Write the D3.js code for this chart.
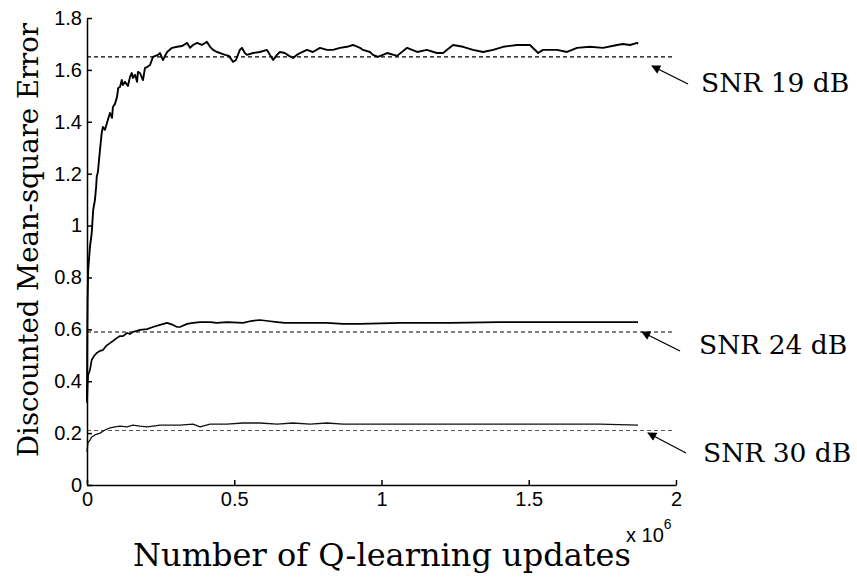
<!DOCTYPE html>
<html>
<head>
<meta charset="utf-8">
<script src="https://cdn.jsdelivr.net/npm/d3@7"></script>
<style>
  html, body { margin: 0; padding: 0; background: #fff; }
  svg { display: block; }
</style>
</head>
<body>
<svg id="chart" width="857" height="581"></svg>
<script>
// Q-learning convergence: discounted MSE vs. number of updates (x 10^6)

// --- SNR 19 dB run
const snr19X = [0, 0.001, 0.002, 0.004, 0.010, 0.016, 0.021, 0.027, 0.031, 0.033, 0.037, 0.044, 0.050, 0.054, 0.061, 0.068, 0.078, 0.085, 0.088, 0.095, 0.102, 0.106, 0.112, 0.118, 0.122, 0.129, 0.139, 0.146, 0.152, 0.156, 0.163, 0.170, 0.173, 0.180, 0.190, 0.197, 0.204, 0.214, 0.224, 0.241, 0.248, 0.258, 0.272, 0.289, 0.306, 0.323, 0.340, 0.350, 0.360, 0.374, 0.390, 0.407, 0.418, 0.428, 0.441, 0.452, 0.469, 0.482, 0.496, 0.506, 0.519, 0.526, 0.536, 0.543, 0.564, 0.587, 0.611, 0.621, 0.632, 0.645, 0.655, 0.672, 0.686, 0.700, 0.713, 0.723, 0.747, 0.767, 0.791, 0.815, 0.835, 0.859, 0.883, 0.903, 0.927, 0.937, 0.961, 0.971, 0.988, 1.019, 1.053, 1.087, 1.121, 1.154, 1.188, 1.209, 1.243, 1.277, 1.311, 1.345, 1.379, 1.413, 1.460, 1.504, 1.532, 1.548, 1.596, 1.630, 1.664, 1.708, 1.752, 1.800, 1.820, 1.844, 1.868, 1.871];
const snr19Y = [0.328, 0.598, 0.713, 0.829, 0.918, 0.971, 1.060, 1.099, 1.149, 1.187, 1.207, 1.291, 1.357, 1.380, 1.369, 1.396, 1.434, 1.415, 1.457, 1.469, 1.496, 1.530, 1.534, 1.561, 1.542, 1.554, 1.538, 1.573, 1.588, 1.569, 1.581, 1.554, 1.592, 1.588, 1.561, 1.608, 1.611, 1.619, 1.650, 1.658, 1.665, 1.638, 1.669, 1.685, 1.689, 1.692, 1.704, 1.685, 1.696, 1.704, 1.696, 1.708, 1.689, 1.677, 1.669, 1.665, 1.658, 1.654, 1.631, 1.638, 1.677, 1.685, 1.665, 1.658, 1.665, 1.669, 1.677, 1.658, 1.638, 1.658, 1.669, 1.665, 1.654, 1.646, 1.658, 1.665, 1.677, 1.669, 1.685, 1.677, 1.677, 1.685, 1.689, 1.696, 1.685, 1.677, 1.669, 1.658, 1.650, 1.665, 1.654, 1.685, 1.669, 1.677, 1.665, 1.665, 1.696, 1.689, 1.677, 1.669, 1.677, 1.689, 1.696, 1.696, 1.665, 1.677, 1.677, 1.669, 1.685, 1.689, 1.685, 1.696, 1.700, 1.696, 1.704, 1.700];

// --- SNR 24 dB run
const snr24X = [0, 0.002, 0.004, 0.010, 0.016, 0.024, 0.033, 0.044, 0.054, 0.065, 0.078, 0.088, 0.102, 0.112, 0.122, 0.136, 0.146, 0.156, 0.170, 0.180, 0.204, 0.224, 0.248, 0.272, 0.282, 0.292, 0.306, 0.316, 0.340, 0.360, 0.384, 0.418, 0.441, 0.475, 0.530, 0.557, 0.587, 0.615, 0.645, 0.672, 0.700, 0.757, 0.815, 0.869, 0.927, 1.063, 1.233, 1.402, 1.572, 1.742, 1.871];
const snr24Y = [0.316, 0.386, 0.424, 0.443, 0.482, 0.497, 0.509, 0.517, 0.520, 0.536, 0.547, 0.555, 0.567, 0.574, 0.574, 0.586, 0.582, 0.590, 0.594, 0.598, 0.601, 0.609, 0.617, 0.625, 0.621, 0.617, 0.609, 0.609, 0.621, 0.625, 0.628, 0.628, 0.625, 0.628, 0.625, 0.632, 0.636, 0.632, 0.628, 0.625, 0.625, 0.625, 0.625, 0.621, 0.621, 0.625, 0.625, 0.628, 0.628, 0.628, 0.628];

// --- SNR 30 dB run
const snr30X = [0, 0.003, 0.010, 0.016, 0.027, 0.044, 0.061, 0.078, 0.095, 0.112, 0.136, 0.156, 0.180, 0.204, 0.224, 0.248, 0.282, 0.316, 0.360, 0.384, 0.418, 0.475, 0.530, 0.587, 0.645, 0.700, 0.757, 0.815, 0.869, 0.927, 1.063, 1.233, 1.402, 1.572, 1.742, 1.871];
const snr30Y = [0.127, 0.162, 0.173, 0.185, 0.193, 0.200, 0.212, 0.220, 0.224, 0.227, 0.224, 0.231, 0.227, 0.224, 0.227, 0.231, 0.231, 0.231, 0.235, 0.224, 0.235, 0.235, 0.239, 0.239, 0.235, 0.239, 0.235, 0.239, 0.235, 0.235, 0.235, 0.235, 0.235, 0.235, 0.235, 0.231];

// Reference (limit) levels drawn as dashed lines
const limitNames = ["SNR 19 dB", "SNR 24 dB", "SNR 30 dB"];
const limitValues = [1.65, 0.59, 0.21];
const limitEnd = 1.99;

// Axis ticks
const xTicks = [0, 0.5, 1, 1.5, 2];
const xTickLabels = ["0", "0.5", "1", "1.5", "2"];
const yTicks = [0, 0.2, 0.4, 0.6, 0.8, 1, 1.2, 1.4, 1.6, 1.8];
const yTickLabels = ["0", "0.2", "0.4", "0.6", "0.8", "1", "1.2", "1.4", "1.6", "1.8"];

const svg = d3.select("#chart");
const x = d3.scaleLinear().domain([0, 2]).range([87, 676]);
const y = d3.scaleLinear().domain([0, 1.8]).range([485, 18]);

const tickFont = "'Liberation Sans', Arial, sans-serif";
const labelFont = "'DejaVu Serif', serif";

// dashed limit lines
const dashColors = ["#000", "#000", "#555"];
limitValues.forEach((v, i) => {
  svg.append("line")
    .attr("x1", x(0)).attr("x2", x(limitEnd))
    .attr("y1", y(v)).attr("y2", y(v))
    .attr("stroke", dashColors[i])
    .attr("stroke-width", 1.1)
    .attr("stroke-dasharray", "4,3");
});

// curves
const line = d3.line().x(d => x(d[0])).y(d => y(d[1]));
const series = [
  { xs: snr19X, ys: snr19Y, w: 1.9, c: "#000" },
  { xs: snr24X, ys: snr24Y, w: 1.7, c: "#000" },
  { xs: snr30X, ys: snr30Y, w: 1.3, c: "#111" }
];
series.forEach(s => {
  svg.append("path")
    .datum(s.xs.map((v, i) => [v, s.ys[i]]))
    .attr("d", line)
    .attr("fill", "none")
    .attr("stroke", s.c)
    .attr("stroke-width", s.w)
    .attr("stroke-linejoin", "round");
});

// axes (ticks point inward, no box)
const xAxis = d3.axisBottom(x)
  .tickValues(xTicks)
  .tickFormat((d, i) => xTickLabels[i])
  .tickSizeInner(-5).tickSizeOuter(0).tickPadding(7);
const yAxis = d3.axisLeft(y)
  .tickValues(yTicks)
  .tickFormat((d, i) => yTickLabels[i])
  .tickSizeInner(-5).tickSizeOuter(0).tickPadding(5);

const gx = svg.append("g").attr("transform", `translate(0,${y(0)})`).call(xAxis);
const gy = svg.append("g").attr("transform", `translate(${x(0)},0)`).call(yAxis);
[gx, gy].forEach(g => {
  g.selectAll("path.domain").attr("stroke", "#000").attr("stroke-width", 1.5);
  g.selectAll(".tick line").attr("stroke", "#000").attr("stroke-width", 1.5);
  g.selectAll(".tick text")
    .attr("fill", "#000")
    .style("font-family", tickFont)
    .style("font-size", "20px");
});

// exponent marker
const expo = svg.append("text")
  .attr("x", 626).attr("y", 542)
  .style("font-family", tickFont).style("font-size", "20px")
  .attr("fill", "#000");
expo.append("tspan").text("x 10");
expo.append("tspan").attr("dy", -13).style("font-size", "14px").text("6");

// axis titles
svg.append("text")
  .attr("x", 382).attr("y", 566)
  .attr("text-anchor", "middle")
  .style("font-family", labelFont).style("font-size", "32px")
  .attr("fill", "#000")
  .text("Number of Q-learning updates");
svg.append("text")
  .attr("transform", "translate(38,240) rotate(-90)")
  .attr("text-anchor", "middle")
  .style("font-family", labelFont).style("font-size", "27.5px")
  .attr("fill", "#000")
  .text("Discounted Mean-square Error");

// annotations with arrows
svg.append("defs").append("marker")
  .attr("id", "arrowhead")
  .attr("viewBox", "0 0 10 10")
  .attr("refX", 9).attr("refY", 5)
  .attr("markerWidth", 10).attr("markerHeight", 9)
  .attr("markerUnits", "userSpaceOnUse")
  .attr("orient", "auto")
  .append("path").attr("d", "M0,0 L10,5 L0,10 z").attr("fill", "#000");

const annot = [
  { tx: 701, ty: 92, ax0: 688, ay0: 84, ax1: 652, ay1: 66 },
  { tx: 699, ty: 354, ax0: 680, ay0: 351, ax1: 642, ay1: 332 },
  { tx: 703, ty: 462, ax0: 686, ay0: 453, ax1: 648, ay1: 433 }
];
annot.forEach((a, i) => {
  svg.append("line")
    .attr("x1", a.ax0).attr("y1", a.ay0)
    .attr("x2", a.ax1).attr("y2", a.ay1)
    .attr("stroke", "#000").attr("stroke-width", 1.3)
    .attr("marker-end", "url(#arrowhead)");
  svg.append("text")
    .attr("x", a.tx).attr("y", a.ty)
    .style("font-family", labelFont).style("font-size", "26.5px")
    .attr("fill", "#000")
    .text(limitNames[i]);
});
</script>
</body>
</html>
